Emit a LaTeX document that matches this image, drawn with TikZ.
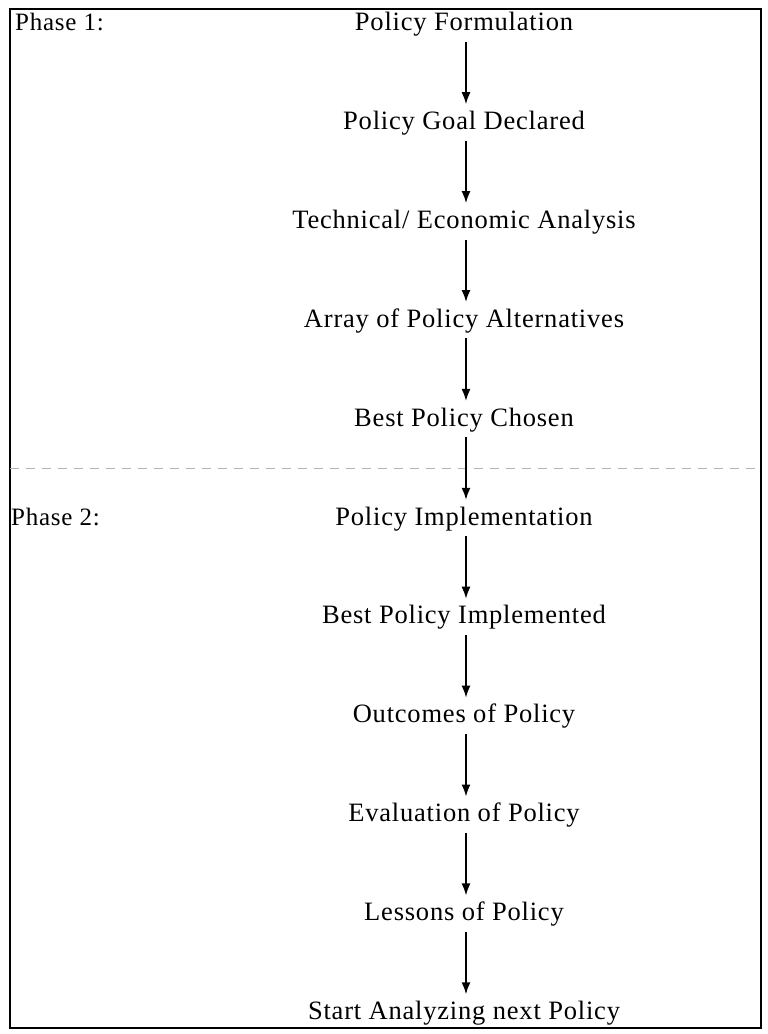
\documentclass[tikz,border=0pt]{standalone}
\usepackage{fontspec}
\setmainfont{Liberation Serif}[LetterSpace=3]
\usetikzlibrary{arrows.meta,positioning,calc}

\begin{document}
\begin{tikzpicture}[x=1pt,y=-1pt,>={Latex[length=12pt,width=9pt]},node distance=71.5pt,
 st/.style={inner sep=1pt,text height=19pt,text depth=6pt,font=\fontsize{26.5}{30}\selectfont},
 ph/.style={inner sep=0pt,anchor=base west,font=\fontsize{25}{30}\selectfont},
 fl/.style={->,line width=1.6pt,shorten <=4pt,shorten >=5pt}]
\useasboundingbox (0,0) rectangle (768,1034);
% frame and phase border
\draw[line width=1.5pt] (10,9) coordinate (tl) rectangle (761,1028);
\draw[gray!60,dashed,dash pattern=on 9pt off 7pt,line width=1pt] (10,468) -- (757,468);
% steps
\node[st] (f1) at (464,24) {Policy Formulation};
\node[st,below=of f1] (f2) {Policy Goal Declared};
\node[st,below=of f2] (f3) {Technical/ Economic Analysis};
\node[st,below=of f3] (f4) {Array of Policy Alternatives};
\node[st,below=of f4] (f5) {Best Policy Chosen};
\node[st,below=of f5] (i1) {Policy Implementation};
\node[st,below=of i1] (i2) {Best Policy Implemented};
\node[st,below=of i2] (i3) {Outcomes of Policy};
\node[st,below=of i3] (i4) {Evaluation of Policy};
\node[st,below=of i4] (i5) {Lessons of Policy};
\node[st,below=of i5] (i6) {Start Analyzing next Policy};
\node[ph] (p1) at ([xshift=5pt]f1.base -| tl) {Phase 1:};
\node[ph] (p2) at ([xshift=1pt]i1.base -| tl) {Phase 2:};
\foreach \a/\b in {f1/f2,f2/f3,f3/f4,f4/f5,f5/i1,i1/i2,i2/i3,i3/i4,i4/i5,i5/i6}
  \draw[fl] ([xshift=2pt]\a.south) -- ([xshift=2pt]\b.north);
\end{tikzpicture}
\end{document}
